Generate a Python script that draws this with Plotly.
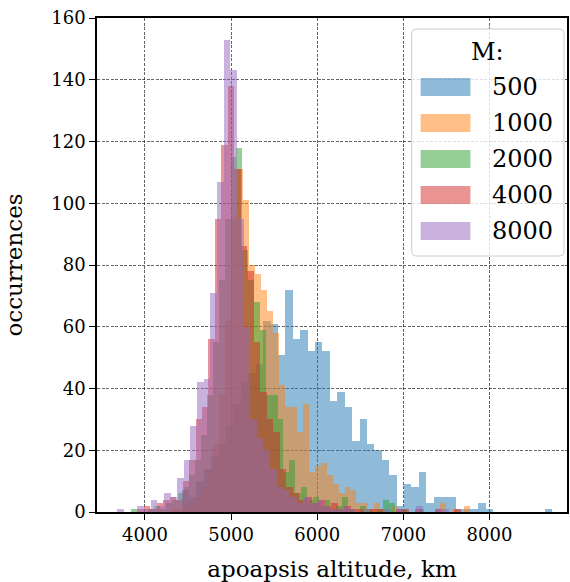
import plotly.graph_objects as go

# ---------------- data ----------------
SERIES_LABELS = ["500", "1000", "2000", "4000", "8000"]
SERIES_COLORS = ["31,119,180", "255,127,14", "44,160,44", "214,39,40", "148,103,189"]

# each series: 50 bins starting at BIN_START with width BIN_WIDTH (km)
BIN_START = [4424.6, 4304.0, 3834.7, 3911.0, 3679.8]
BIN_WIDTH = [86.1, 69.4, 68.2, 75.1, 77.1]

COUNTS_500 = [7, 5, 10, 14, 18, 22, 28, 35, 42, 45,
              48, 62, 61, 51, 72, 56, 59, 52, 55, 52,
              36, 39, 34, 23, 30, 22, 20, 17, 12, 2,
              9, 8, 13, 3, 5, 5, 5, 1, 1, 1,
              3, 1, 0, 0, 0, 0, 0, 0, 0, 1]
COUNTS_1000 = [1, 1, 2, 3, 5, 8, 14, 22, 38, 62,
               95, 111, 101, 80, 77, 72, 65, 58, 41, 34,
               34, 26, 35, 13, 15, 16, 12, 9, 6, 8,
               7, 3, 3, 1, 3, 1, 0, 2, 1, 0,
               0, 0, 0, 0, 0, 3, 0, 1, 0, 2]
COUNTS_2000 = [1, 0, 0, 1, 2, 1, 3, 4, 6, 8,
               12, 17, 25, 38, 55, 75, 95, 115, 118, 85,
               75, 68, 59, 38, 38, 30, 13, 17, 6, 8,
               4, 5, 2, 4, 1, 2, 5, 1, 0, 2,
               1, 0, 1, 4, 3, 0, 1, 0, 0, 1]
COUNTS_4000 = [1, 2, 1, 3, 4, 5, 4, 10, 17, 30,
               34, 56, 95, 119, 138, 111, 86, 78, 55, 39,
               30, 26, 14, 8, 6, 4, 5, 3, 4, 2,
               3, 1, 2, 1, 1, 0, 1, 1, 0, 0,
               1, 1, 0, 1, 0, 0, 1, 0, 0, 1]
COUNTS_8000 = [1, 0, 0, 2, 1, 4, 2, 6, 5, 11,
               17, 28, 42, 43, 71, 107, 153, 143, 95, 60,
               30, 24, 20, 14, 8, 7, 5, 3, 5, 3,
               4, 2, 1, 1, 2, 1, 0, 1, 0, 0,
               1, 0, 1, 0, 0, 2, 0, 0, 1, 1]
ALL_COUNTS = [COUNTS_500, COUNTS_1000, COUNTS_2000, COUNTS_4000, COUNTS_8000]

X_TICKS = [4000, 5000, 6000, 7000, 8000]
Y_TICKS = [0, 20, 40, 60, 80, 100, 120, 140, 160]
X_RANGE = [3443, 8900]
Y_RANGE = [0, 160]

FONT = "DejaVu Serif"

# ---------------- figure ----------------
W, H = 570, 582
ML, MR, MT, MB = 97, 1, 18, 70

fig = go.Figure()
for lab, col, start, width, counts in zip(SERIES_LABELS, SERIES_COLORS,
                                           BIN_START, BIN_WIDTH, ALL_COUNTS):
    edges = [start + width * i for i in range(len(counts))]
    fig.add_trace(go.Bar(
        x=edges, y=counts, width=[width] * len(counts), offset=0,
        name=lab, marker=dict(color=f"rgba({col},0.5)", line=dict(width=0)),
        showlegend=False, hoverinfo="x+y+name",
    ))

axis_common = dict(
    showline=True, linecolor="black", linewidth=1.5, mirror=True,
    ticks="outside", ticklen=6, tickwidth=1.3, tickcolor="black",
    showgrid=True, gridcolor="rgba(0,0,0,0.6)", gridwidth=0.8, griddash="3px,1.5px",
    zeroline=False, tickfont=dict(family=FONT, size=18, color="black"),
    layer="above traces",
)

fig.update_layout(
    width=W, height=H, autosize=False,
    margin=dict(l=ML, r=MR, t=MT, b=MB, pad=0),
    paper_bgcolor="white", plot_bgcolor="white",
    barmode="overlay", bargap=0,
    xaxis=dict(range=X_RANGE, tickvals=X_TICKS, ticktext=[str(v) for v in X_TICKS],
               title=dict(text="apoapsis altitude, km",
                          font=dict(family=FONT, size=23, color="black"), standoff=18),
               **axis_common),
    yaxis=dict(range=Y_RANGE, tickvals=Y_TICKS, ticktext=[str(v) for v in Y_TICKS],
               title=dict(text="occurrences",
                          font=dict(family=FONT, size=23, color="black"), standoff=22),
               **axis_common),
)

# ---------------- custom legend (matplotlib-like) ----------------
PW = W - ML - MR
PH = H - MT - MB


def px(x):
    return (x - ML) / PW


def py(y):
    return (H - MB - y) / PH


def rounded_rect(x0, y0, x1, y1, r):
    rx, ry = r / PW, r / PH
    X0, X1, Y0, Y1 = px(x0), px(x1), py(y1), py(y0)
    return (f"M {X0+rx},{Y0} L {X1-rx},{Y0} Q {X1},{Y0} {X1},{Y0+ry} "
            f"L {X1},{Y1-ry} Q {X1},{Y1} {X1-rx},{Y1} L {X0+rx},{Y1} "
            f"Q {X0},{Y1} {X0},{Y1-ry} L {X0},{Y0+ry} Q {X0},{Y0} {X0+rx},{Y0} Z")


shapes = [dict(type="path", xref="paper", yref="paper",
               path=rounded_rect(413, 29, 566, 256, 5),
               fillcolor="rgba(255,255,255,0.8)",
               line=dict(color="rgba(204,204,204,1)", width=1), layer="above")]
annotations = [dict(xref="paper", yref="paper", x=px(489), y=py(52), text="M:",
                    showarrow=False, xanchor="center", yanchor="middle",
                    font=dict(family=FONT, size=24, color="black"))]
for i, (lab, col) in enumerate(zip(SERIES_LABELS, SERIES_COLORS)):
    yc = 87 + 36 * i
    shapes.append(dict(type="rect", xref="paper", yref="paper",
                       x0=px(422), x1=px(472), y0=py(yc + 9), y1=py(yc - 9),
                       fillcolor=f"rgba({col},0.5)", line=dict(width=0), layer="above"))
    annotations.append(dict(xref="paper", yref="paper", x=px(492), y=py(yc),
                            text=lab, showarrow=False, xanchor="left", yanchor="middle",
                            font=dict(family=FONT, size=24, color="black")))

fig.update_layout(shapes=shapes, annotations=annotations)

fig.write_html("out.html")
